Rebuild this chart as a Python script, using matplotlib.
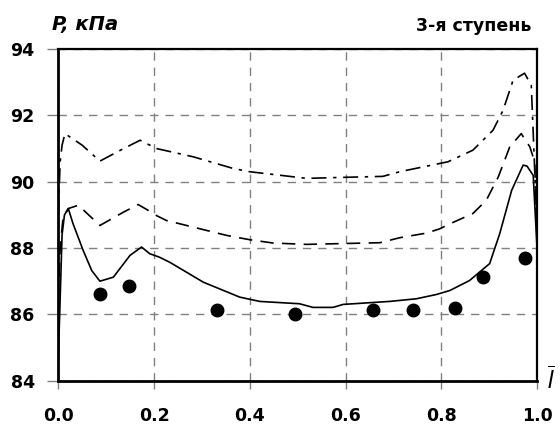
import matplotlib
matplotlib.use("Agg")
import matplotlib.pyplot as plt

plt.rcParams["font.family"] = ["DejaVu Sans"]
plt.rcParams["mathtext.fontset"] = "custom"
plt.rcParams["mathtext.it"] = "Liberation Sans:italic"
plt.rcParams["mathtext.rm"] = "Liberation Sans"

# --- данные ---
solid_x = [0.0, 0.003, 0.008, 0.013, 0.021, 0.031, 0.052, 0.07, 0.087, 0.115, 0.15,
           0.174, 0.191, 0.212, 0.233, 0.303, 0.379, 0.421, 0.504, 0.532, 0.574,
           0.595, 0.692, 0.748, 0.79, 0.818, 0.859, 0.901, 0.922, 0.947, 0.971,
           0.979, 0.992, 1.0]
solid_y = [84.6, 86.0, 88.4, 89.0, 89.19, 88.73, 87.93, 87.32, 87.0, 87.12, 87.78,
           88.03, 87.83, 87.72, 87.57, 86.97, 86.52, 86.39, 86.32, 86.21, 86.21,
           86.3, 86.39, 86.47, 86.6, 86.72, 87.02, 87.53, 88.43, 89.74, 90.5,
           90.47, 90.19, 88.0]

dash_x = [0.0, 0.004, 0.01, 0.021, 0.042, 0.087, 0.136, 0.167, 0.185, 0.205, 0.226,
          0.282, 0.352, 0.40, 0.449, 0.519, 0.672, 0.713, 0.769, 0.797, 0.818,
          0.866, 0.894, 0.919, 0.943, 0.967, 0.985, 0.995, 1.0]
dash_y = [86.5, 88.0, 88.9, 89.19, 89.29, 88.68, 89.08, 89.31, 89.16, 88.98, 88.83,
          88.63, 88.38, 88.25, 88.15, 88.11, 88.16, 88.31, 88.45, 88.58, 88.73,
          89.04, 89.44, 90.14, 91.05, 91.45, 91.05, 90.6, 88.3]

dashdot_x = [0.0, 0.004, 0.008, 0.014, 0.05, 0.087, 0.13, 0.171, 0.205, 0.282,
             0.365, 0.40, 0.519, 0.594, 0.678, 0.713, 0.797, 0.814, 0.866, 0.908,
             0.929, 0.95, 0.974, 0.988, 1.0]
dashdot_y = [89.0, 90.6, 91.1, 91.45, 91.1, 90.62, 90.95, 91.25, 91.0, 90.75,
             90.4, 90.3, 90.1, 90.13, 90.16, 90.3, 90.55, 90.6, 90.95, 91.55,
             92.15, 93.06, 93.27, 92.9, 88.6]

exp_x = [0.088, 0.148, 0.331, 0.494, 0.658, 0.741, 0.829, 0.887, 0.975]
exp_y = [86.62, 86.86, 86.12, 86.0, 86.12, 86.12, 86.2, 87.14, 87.7]

x_ticks = [0.0, 0.2, 0.4, 0.6, 0.8, 1.0]
y_ticks = [84, 86, 88, 90, 92, 94]

fig = plt.figure(figsize=(5.6, 4.28), dpi=100)
ax = fig.add_axes([0.104, 0.1105, 0.855, 0.775])

ax.plot(solid_x, solid_y, color="black", lw=1.2)
ax.plot(dash_x, dash_y, color="black", lw=1.2, dashes=(8, 5))
ax.plot(dashdot_x, dashdot_y, color="black", lw=1.2, dashes=(9, 4, 2, 4))
ax.plot(exp_x, exp_y, "o", color="black", ms=9, ls="none", zorder=4)

ax.set_xlim(0, 1.0)
ax.set_ylim(84, 94)
ax.set_xticks(x_ticks)
ax.set_xticklabels([f"{v:.1f}" for v in x_ticks])
ax.set_yticks(y_ticks)
ax.grid(True, color="#808080", ls=(0, (6, 5)), lw=1.0)

for side in ["left", "bottom"]:
    ax.spines[side].set_linewidth(2.0)
for side in ["top", "right"]:
    ax.spines[side].set_linewidth(1.6)

ax.tick_params(axis="y", direction="out", length=8, width=1, pad=9,
               labelsize=12.5, color="#808080")
ax.tick_params(axis="x", direction="out", length=6, width=1, pad=13,
               labelsize=12.5, color="#808080")
for lab in ax.get_xticklabels() + ax.get_yticklabels():
    lab.set_fontweight("bold")

fig.text(0.093, 0.942, "P, кПа", fontsize=14, fontweight="bold",
         fontstyle="italic", ha="left", va="center")
fig.text(0.948, 0.94, "3-я ступень", fontsize=12.5, fontweight="bold",
         ha="right", va="center")
fig.text(0.983, 0.11, r"$\overline{l}$", fontsize=17, ha="center", va="center")

fig.savefig("out.png", dpi=100)
